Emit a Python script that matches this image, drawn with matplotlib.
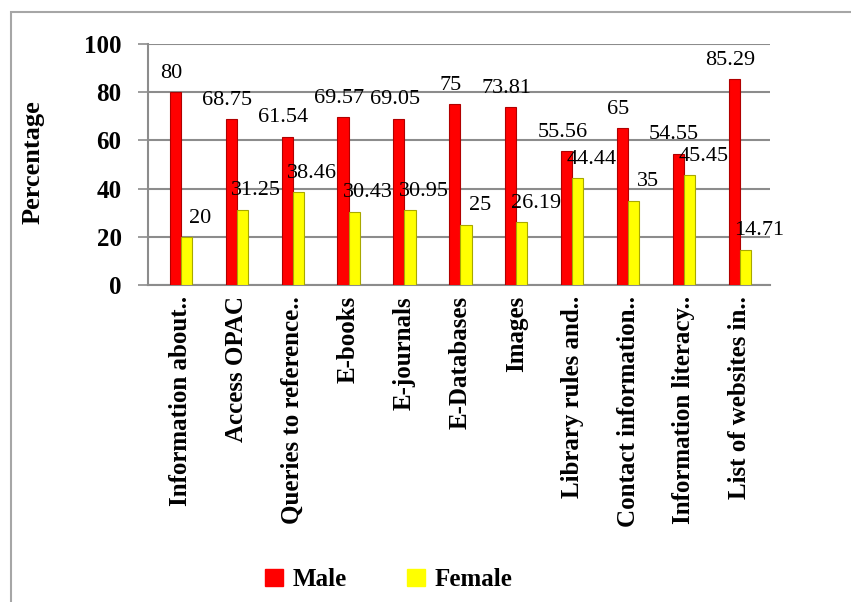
import numpy as np
import matplotlib.pyplot as plt
from matplotlib.patches import Rectangle, Patch

# Survey results: percentage of users by gender for each library web service
services = ['Information about..', 'Access OPAC', 'Queries to reference..',
            'E-books', 'E-journals', 'E-Databases', 'Images',
            'Library rules and..', 'Contact information..',
            'Information literacy..', 'List of websites in..']
male = [80, 68.75, 61.54, 69.57, 69.05, 75, 73.81, 55.56, 65, 54.55, 85.29]
female = [20, 31.25, 38.46, 30.43, 30.95, 25, 26.19, 44.44, 35, 45.45, 14.71]
series_names = ['Male', 'Female']

plt.rcParams['font.family'] = ['Liberation Serif', 'DejaVu Serif']

fig = plt.figure(figsize=(8.51, 6.02), dpi=100)
ax = fig.add_axes([0.1739, 0.5266, 0.7309, 0.4003])

x = np.arange(len(services))
w = 0.2
ax.bar(x - w / 2, male, w, color='#ff0000', edgecolor='#b00000', linewidth=0.8, zorder=3)
ax.bar(x + w / 2, female, w, color='#ffff00', edgecolor='#a8a800', linewidth=0.8, zorder=3)

# value labels above each bar
for i in range(len(services)):
    ax.annotate(f'{male[i]:g}', (x[i] - w / 2, male[i]), xytext=(-3, 13.5),
                textcoords='offset points', ha='center', va='center',
                fontsize=16, zorder=4)
    ax.annotate(f'{female[i]:g}', (x[i] + w / 2, female[i]), xytext=(10, 13.5),
                textcoords='offset points', ha='center', va='center',
                fontsize=16, zorder=4)

ax.set_xlim(-0.59, 10.54)
ax.set_ylim(0, 100)
ax.set_yticks(np.arange(0, 101, 20))
ax.set_xticks(x)
ax.set_xticklabels(services, rotation=90, fontsize=18, fontweight='bold')
ax.tick_params(axis='x', length=0, pad=8)
ax.tick_params(axis='y', length=7, width=1.2, color='#8c8c8c', pad=12,
               labelsize=18)
for lbl in ax.get_yticklabels():
    lbl.set_fontweight('bold')

ax.grid(axis='y', color='#8c8c8c', linewidth=1.5, zorder=0)
ax.set_axisbelow(True)
for side in ['top', 'right']:
    ax.spines[side].set_visible(False)
for side in ['left', 'bottom']:
    ax.spines[side].set_color('#8c8c8c')
    ax.spines[side].set_linewidth(1.5)

ax.set_ylabel('Percentage', fontsize=19, fontweight='bold')
ax.yaxis.set_label_coords(-0.166, 0.51)

handles = [Patch(color='#ff0000'), Patch(color='#ffff00')]
fig.legend(handles, series_names, loc='center', bbox_to_anchor=(0.457, 0.037),
           ncol=2, frameon=False,
           prop={'family': 'Liberation Serif', 'size': 18, 'weight': 'bold'},
           handlelength=0.7, handleheight=0.7, handletextpad=0.4,
           columnspacing=2.4)

# outer chart border
fig.add_artist(Rectangle((11 / 851, -0.05), 1.0, (602 - 12) / 602 + 0.05,
                         transform=fig.transFigure, fill=False,
                         edgecolor='#a6a6a6', linewidth=1.5))

fig.savefig('out.png', dpi=100)
